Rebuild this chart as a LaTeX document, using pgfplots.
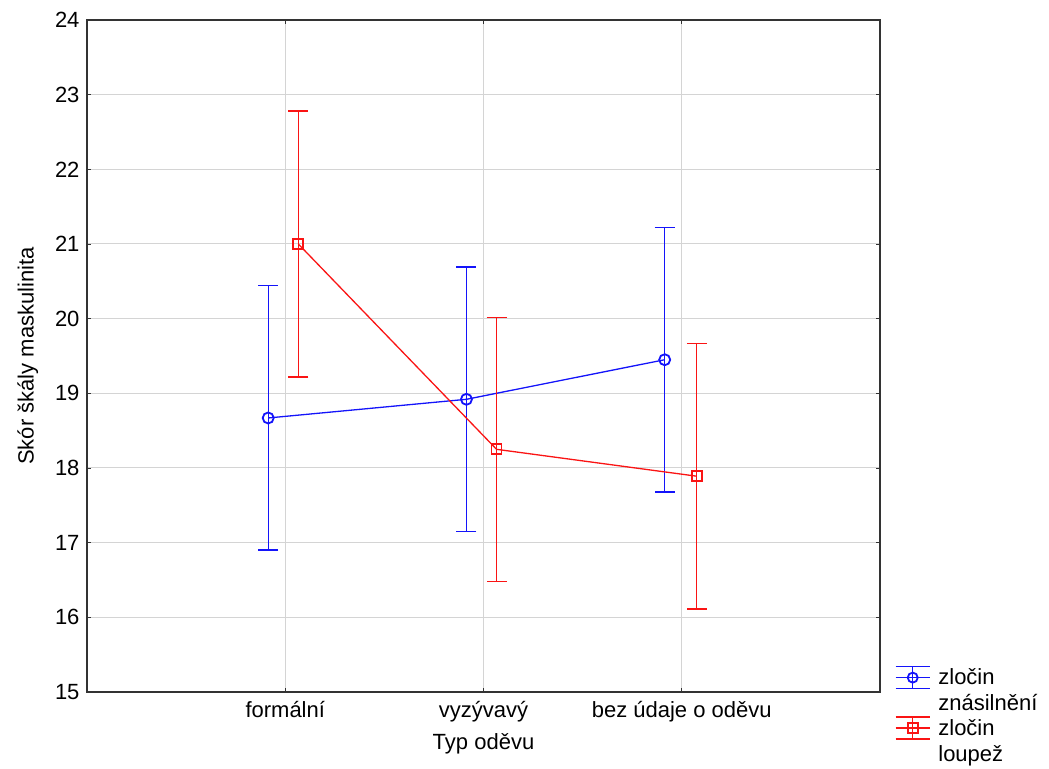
\documentclass[border=0pt]{standalone}
\usepackage{pgfplots}
\pgfplotsset{compat=1.18}
\usepackage{fontspec}
\setmainfont{Liberation Sans}
\definecolor{sblue}{RGB}{20,20,250}
\definecolor{sred}{RGB}{250,20,20}
\begin{document}
\begin{tikzpicture}
\begin{axis}[name=ax, scale only axis, width=793bp, height=672bp,
  xmin=-1, xmax=3, ymin=15, ymax=24,
  ytick={15,...,24}, xtick={0,1,2},
  xticklabels={formální, vyzývavý, bez údaje o oděvu},
  grid=major, major grid style={black!17, line width=1bp},
  axis line style={black!80, line width=1.2bp},
  tick style={black!80, line width=0.8bp},
  tick align=inside, major tick length=4bp,
  font=\fontsize{22bp}{26bp}\selectfont,
  tick label style={font=\fontsize{22bp}{26bp}\selectfont},
  /pgf/number format/assume math mode=true,
  xticklabel style={yshift=-6bp},
  yticklabel style={xshift=-4bp},
  xlabel={Typ oděvu}, ylabel={Skór škály maskulinita},
  xlabel style={yshift=-4bp},
  ylabel style={yshift=10bp},
  legend style={at={(1.015,0.042)}, anchor=north west, draw=none, fill=none,
    font=\fontsize{22bp}{26bp}\selectfont,
    cells={anchor=west, align=left}, row sep=2bp},
]
\addplot[sblue, line width=1.3bp, mark=o, mark size=5.5bp,
  mark options={line width=1.8bp},
  legend image code/.code={
    \draw[sblue, line width=1.3bp] (0bp,13bp) -- (34bp,13bp)
      (0bp,24bp) -- (34bp,24bp) (0bp,2bp) -- (34bp,2bp)
      (17bp,2bp) -- (17bp,24bp);
    \draw[sblue, line width=1.8bp] (17bp,13bp) circle (5bp);
    \path (40bp,0bp);
  },
  error bars/.cd, y dir=both, y explicit,
  error bar style={sblue, line width=1.3bp},
  error mark options={sblue, rotate=90, mark size=10bp, line width=1.3bp}]
  coordinates {
  (-0.086,18.67) +- (0,1.77)
  (0.914,18.92) +- (0,1.77)
  (1.914,19.45) +- (0,1.77)
};
\addlegendentry{zločin\\znásilnění}
\addplot[sred, line width=1.3bp, mark=square, mark size=5bp,
  mark options={line width=1.8bp},
  legend image code/.code={
    \draw[sred, line width=1.3bp] (0bp,13bp) -- (34bp,13bp)
      (0bp,24bp) -- (34bp,24bp) (0bp,2bp) -- (34bp,2bp)
      (17bp,2bp) -- (17bp,24bp);
    \draw[sred, line width=1.8bp] (12bp,8bp) rectangle (22bp,18bp);
    \path (40bp,0bp);
  },
  error bars/.cd, y dir=both, y explicit,
  error bar style={sred, line width=1.3bp},
  error mark options={sred, rotate=90, mark size=10bp, line width=1.3bp}]
  coordinates {
  (0.066,21.00) +- (0,1.78)
  (1.066,18.25) +- (0,1.77)
  (2.076,17.89) +- (0,1.78)
};
\addlegendentry{zločin\\loupež}
\end{axis}
\pgfresetboundingbox
\useasboundingbox ([shift={(-87bp,-77bp)}]ax.south west) rectangle ([shift={(169bp,20bp)}]ax.north east);
\end{tikzpicture}
\end{document}
